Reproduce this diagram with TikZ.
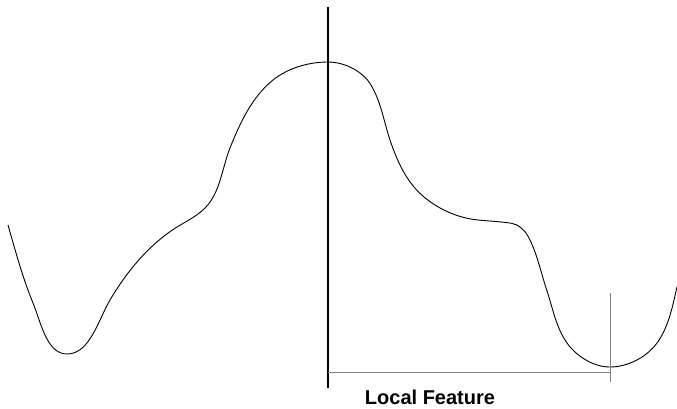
\documentclass[tikz,border=0pt]{standalone}
\usepackage{fontspec}
\setmainfont{Liberation Sans}
\begin{document}
\begin{tikzpicture}[x=1pt,y=-1pt,
  curve/.style={line width=0.9pt, black, line join=round},
  axisline/.style={line width=1.6pt, black},
  dimline/.style={line width=1pt, black!50},
  lbl/.style={font=\fontsize{20pt}{24pt}\selectfont\bfseries, inner sep=0pt}]
\useasboundingbox (0,0) rectangle (677,408);
\draw[curve] (8,225)
  .. controls (15.5,251.2) and (22.6,277.7) .. (33,303)
  .. controls (40.8,321.9) and (46.6,354) .. (67,354)
  .. controls (90,354) and (98.3,319.8) .. (110,300)
  .. controls (126.8,271.6) and (149,244.5) .. (177,227)
  .. controls (187,221) and (197,216) .. (205,208)
  .. controls (220.3,192.7) and (222,168.2) .. (230,148)
  .. controls (239.9,123.1) and (252.1,96.75) .. (273,80)
  .. controls (288.1,67.9) and (308.7,62) .. (328,62)
  .. controls (344.3,62) and (362.7,71) .. (371,85)
  .. controls (380.9,101.7) and (383.9,121.6) .. (390,140)
  .. controls (396.7,160.1) and (405.95,180.8) .. (421.7,195)
  .. controls (436.9,208.7) and (457.6,217.95) .. (478,220)
  .. controls (489.2,221.1) and (500.5,221.6) .. (511.7,223.3)
  .. controls (518.7,224.35) and (525,230.45) .. (528.3,236.7)
  .. controls (537.1,253.2) and (540.8,272.2) .. (546.7,290)
  .. controls (552.7,307.9) and (556,327.5) .. (567,343)
  .. controls (576.5,356.4) and (593.6,367) .. (610,367)
  .. controls (627.6,367) and (646.6,357.3) .. (657,343)
  .. controls (668.7,327) and (672.5,306.3) .. (677,287);
\coordinate (vtop) at (328,7);
\coordinate (vbot) at (328,388);
\coordinate (hl) at (328,372);
\coordinate (hr) at (610,372);
\coordinate (rtop) at (610,293);
\coordinate (rbot) at (610,382);
\draw[axisline] (vtop) -- (vbot);
\draw[dimline] (hl) -- (hr);
\draw[dimline] (rtop) -- (rbot);
\node[lbl, anchor=base] (label) at (430,404) {Local Feature};
\end{tikzpicture}
\end{document}
